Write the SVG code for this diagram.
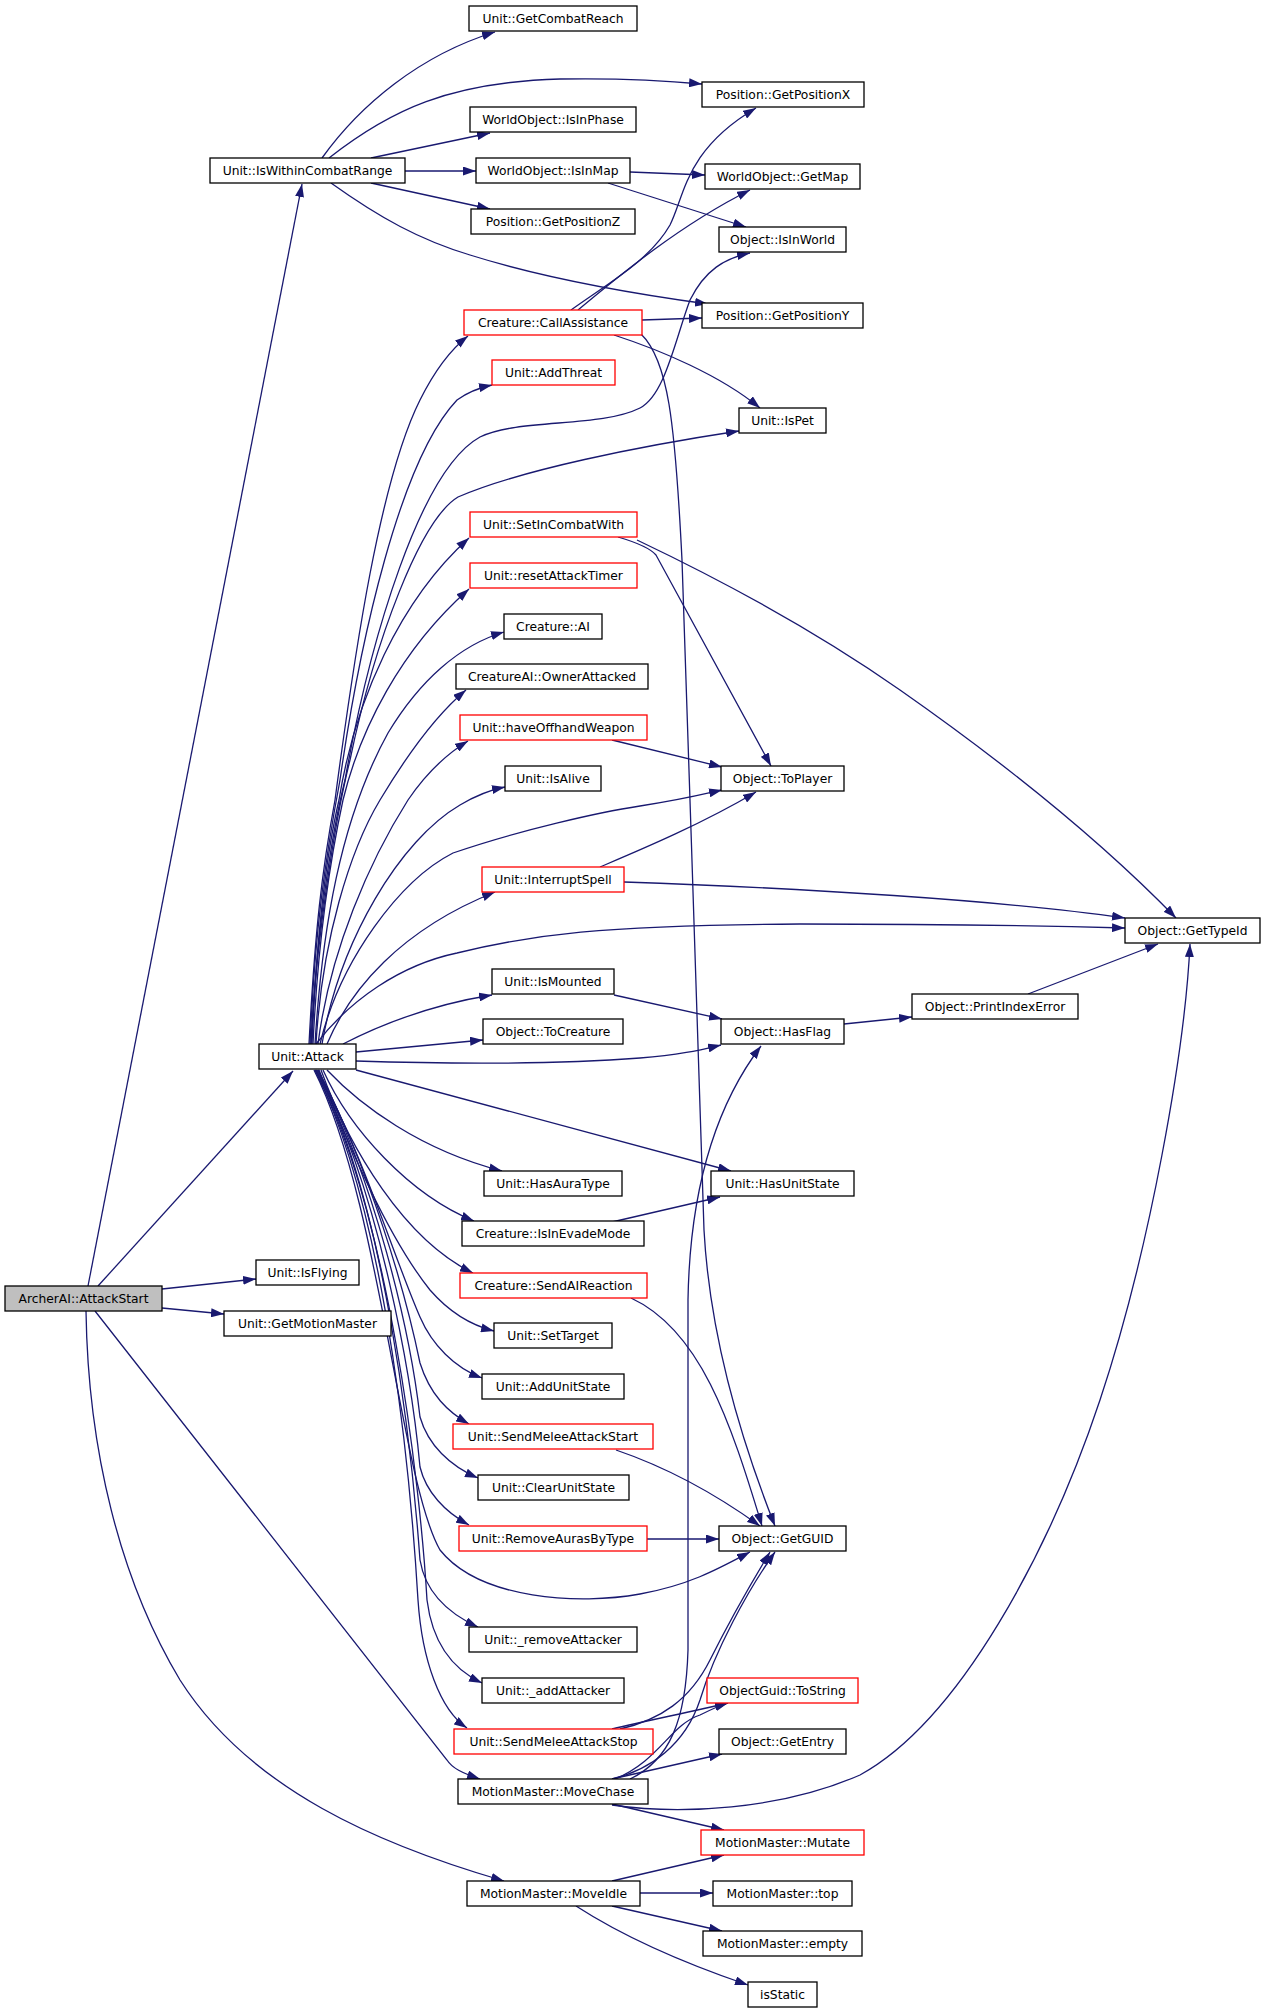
<svg xmlns="http://www.w3.org/2000/svg" width="1264" height="2013" viewBox="0 0 1264 2013">
<style>
.n rect{fill:#ffffff;stroke:#000000;stroke-width:1.3}
.n.r rect{stroke:#ff0000}
.n.root rect{fill:#bfbfbf}
.n text{font-family:"DejaVu Sans","Liberation Sans",sans-serif;font-size:12.3px;text-anchor:middle;fill:#000000}
#edges path{fill:none;stroke:#191970;stroke-width:1.3;marker-end:url(#a)}
</style>
<defs>
<marker id="a" viewBox="0 0 13 9" refX="13" refY="4.5" markerWidth="13" markerHeight="9" markerUnits="userSpaceOnUse" orient="auto">
<path d="M0,0 L13,4.5 L0,9 z" fill="#191970"/>
</marker>
</defs>
<rect x="0" y="0" width="1264" height="2013" fill="#ffffff"/>
<g id="edges">
<path d="M88,1286 L302,184"/>
<path d="M98,1286 L293,1071"/>
<path d="M162,1289 L256,1279"/>
<path d="M162,1308 L224,1314"/>
<path d="M95,1311 L447,1760 C452,1768 462,1773 480,1779"/>
<path d="M86,1311 C88,1450 120,1580 180,1680 C250,1790 380,1845 504,1881"/>
<path d="M322,158 C360,105 420,55 495,32"/>
<path d="M329,158 C390,110 450,82 560,79 C620,78 660,80 702,84"/>
<path d="M371,158 L490,133"/>
<path d="M405,171 L476,171"/>
<path d="M371,183 L490,209"/>
<path d="M331,183 C380,218 420,240 470,255 C540,277 620,292 708,304"/>
<path d="M630,172 L705,175"/>
<path d="M608,183 L746,227"/>
<path d="M571,310 C610,282 650,260 670,225 C685,195 685,150 756,108"/>
<path d="M578,310 C620,275 680,225 750,190"/>
<path d="M642,320 L702,318"/>
<path d="M614,335 C660,350 720,375 760,408"/>
<path d="M641,334 C668,360 675,420 682,560 C690,760 698,1100 704,1230 C710,1340 745,1450 775,1526"/>
<path d="M309,1044 C315,930 322,870 335,800 C355,650 380,480 420,400 C435,370 450,350 468,336"/>
<path d="M310,1044 C315,930 325,860 340,780 C360,640 400,460 457,400 C468,392 478,388 492,385"/>
<path d="M311,1044 C316,940 330,840 345,780 C370,640 420,470 480,437 C520,418 600,428 640,408 C665,395 675,340 690,300 C705,270 725,258 750,253"/>
<path d="M311,1044 C316,940 335,820 350,760 C375,640 420,520 458,497 C520,470 640,446 739,431"/>
<path d="M312,1044 C316,950 325,860 339,800 C355,700 400,600 469,538"/>
<path d="M313,1044 C318,940 330,860 343,800 C360,730 400,650 469,589"/>
<path d="M315,1044 C322,930 340,820 388,733 C420,680 460,645 504,632"/>
<path d="M316,1044 C322,940 350,850 380,800 C395,775 430,720 466,690"/>
<path d="M318,1044 C330,950 370,860 408,800 C425,775 445,755 468,741"/>
<path d="M322,1044 C340,940 400,840 460,805 C475,796 490,790 505,787"/>
<path d="M320,1044 C340,960 400,880 453,853 C520,830 600,812 640,806 C680,800 700,795 722,790"/>
<path d="M327,1044 C350,990 400,930 495,892"/>
<path d="M316,1044 C350,1000 400,965 457,953 C530,935 600,925 800,924 C950,924 1050,926 1125,928"/>
<path d="M343,1044 C380,1025 430,1005 492,995"/>
<path d="M356,1052 L483,1040"/>
<path d="M356,1061 C450,1064 560,1064 640,1058 C680,1055 700,1050 721,1045"/>
<path d="M356,1070 L731,1171"/>
<path d="M327,1070 C360,1105 420,1150 502,1171"/>
<path d="M323,1070 C350,1130 410,1195 474,1221"/>
<path d="M321,1070 C350,1150 405,1240 473,1273"/>
<path d="M319,1070 C350,1150 390,1240 430,1290 C450,1313 470,1325 494,1331"/>
<path d="M318,1070 C365,1160 395,1260 420,1317 C432,1345 455,1368 482,1378"/>
<path d="M318,1070 C370,1170 405,1290 420,1363 C430,1395 448,1412 469,1424"/>
<path d="M317,1070 C375,1180 410,1330 420,1417 C428,1445 450,1466 478,1478"/>
<path d="M316,1070 C380,1190 412,1380 420,1467 C426,1492 445,1512 469,1525"/>
<path d="M314,1070 C380,1200 400,1480 440,1550 C480,1600 580,1605 640,1594 C690,1585 720,1568 750,1552"/>
<path d="M316,1070 C385,1200 412,1450 420,1560 C425,1590 445,1612 478,1627"/>
<path d="M315,1070 C388,1210 420,1480 427,1600 C432,1640 450,1668 482,1683"/>
<path d="M315,1070 C390,1220 412,1500 418,1600 C422,1660 440,1710 467,1728"/>
<path d="M618,537 C635,542 650,548 656,555 L771,766"/>
<path d="M637,540 C700,570 800,620 900,690 C1000,760 1100,840 1176,918"/>
<path d="M612,740 L722,767"/>
<path d="M600,867 C640,850 700,825 756,792"/>
<path d="M624,882 C800,888 1000,900 1125,918"/>
<path d="M614,995 L722,1019"/>
<path d="M844,1024 L912,1017"/>
<path d="M1028,994 L1158,944"/>
<path d="M612,1222 L720,1197"/>
<path d="M631,1298 C700,1330 730,1420 762,1526"/>
<path d="M616,1450 C660,1465 710,1490 760,1526"/>
<path d="M647,1539 L719,1539"/>
<path d="M612,1729 C650,1720 690,1712 728,1703"/>
<path d="M620,1729 C660,1720 690,1700 710,1660 C730,1620 750,1585 770,1552"/>
<path d="M612,1779 C650,1770 685,1745 700,1700 C715,1650 748,1590 775,1552"/>
<path d="M615,1779 C660,1760 670,1725 700,1715 C710,1710 718,1706 728,1703"/>
<path d="M612,1779 L722,1754"/>
<path d="M630,1779 C670,1760 686,1720 688,1650 L688,1300 C690,1180 720,1100 761,1046"/>
<path d="M612,1805 C680,1815 780,1810 860,1775 C960,1720 1050,1550 1100,1400 C1150,1250 1185,1050 1190,944"/>
<path d="M612,1804 L724,1830"/>
<path d="M612,1881 L724,1855"/>
<path d="M640,1893 L713,1893"/>
<path d="M612,1906 L722,1931"/>
<path d="M576,1906 C610,1928 660,1955 748,1985"/>
</g>
<g id="n_archerai_attackstart" class="n root"><rect x="5" y="1286" width="157" height="25"/><text x="83.5" y="1303">ArcherAI::AttackStart</text></g>
<g id="n_iswithincombatrange" class="n"><rect x="210" y="158" width="195" height="25"/><text x="307.5" y="175">Unit::IsWithinCombatRange</text></g>
<g id="n_getcombatreach" class="n"><rect x="469" y="6" width="168" height="25"/><text x="553" y="23">Unit::GetCombatReach</text></g>
<g id="n_getpositionx" class="n"><rect x="702" y="82" width="162" height="25"/><text x="783" y="99">Position::GetPositionX</text></g>
<g id="n_isinphase" class="n"><rect x="470" y="107" width="166" height="25"/><text x="553" y="124">WorldObject::IsInPhase</text></g>
<g id="n_isinmap" class="n"><rect x="476" y="158" width="154" height="25"/><text x="553" y="175">WorldObject::IsInMap</text></g>
<g id="n_getmap" class="n"><rect x="705" y="164" width="155" height="25"/><text x="782.5" y="181">WorldObject::GetMap</text></g>
<g id="n_getpositionz" class="n"><rect x="471" y="209" width="164" height="25"/><text x="553" y="226">Position::GetPositionZ</text></g>
<g id="n_isinworld" class="n"><rect x="719" y="227" width="127" height="25"/><text x="782.5" y="244">Object::IsInWorld</text></g>
<g id="n_callassistance" class="n r"><rect x="464" y="310" width="178" height="25"/><text x="553" y="327">Creature::CallAssistance</text></g>
<g id="n_getpositiony" class="n"><rect x="702" y="303" width="161" height="25"/><text x="782.5" y="320">Position::GetPositionY</text></g>
<g id="n_addthreat" class="n r"><rect x="492" y="360" width="123" height="25"/><text x="553.5" y="377">Unit::AddThreat</text></g>
<g id="n_ispet" class="n"><rect x="739" y="408" width="87" height="25"/><text x="782.5" y="425">Unit::IsPet</text></g>
<g id="n_setincombatwith" class="n r"><rect x="470" y="512" width="167" height="25"/><text x="553.5" y="529">Unit::SetInCombatWith</text></g>
<g id="n_resetattacktimer" class="n r"><rect x="470" y="563" width="167" height="25"/><text x="553.5" y="580">Unit::resetAttackTimer</text></g>
<g id="n_creature_ai" class="n"><rect x="504" y="614" width="98" height="25"/><text x="553" y="631">Creature::AI</text></g>
<g id="n_ownerattacked" class="n"><rect x="456" y="664" width="192" height="25"/><text x="552" y="681">CreatureAI::OwnerAttacked</text></g>
<g id="n_haveoffhandweapon" class="n r"><rect x="460" y="715" width="187" height="25"/><text x="553.5" y="732">Unit::haveOffhandWeapon</text></g>
<g id="n_isalive" class="n"><rect x="505" y="766" width="96" height="25"/><text x="553" y="783">Unit::IsAlive</text></g>
<g id="n_toplayer" class="n"><rect x="721" y="766" width="123" height="25"/><text x="782.5" y="783">Object::ToPlayer</text></g>
<g id="n_interruptspell" class="n r"><rect x="482" y="867" width="142" height="25"/><text x="553" y="884">Unit::InterruptSpell</text></g>
<g id="n_gettypeid" class="n"><rect x="1125" y="918" width="135" height="25"/><text x="1192.5" y="935">Object::GetTypeId</text></g>
<g id="n_ismounted" class="n"><rect x="492" y="969" width="122" height="25"/><text x="553" y="986">Unit::IsMounted</text></g>
<g id="n_printindexerror" class="n"><rect x="912" y="994" width="166" height="25"/><text x="995" y="1011">Object::PrintIndexError</text></g>
<g id="n_tocreature" class="n"><rect x="483" y="1019" width="140" height="25"/><text x="553" y="1036">Object::ToCreature</text></g>
<g id="n_hasflag" class="n"><rect x="721" y="1019" width="123" height="25"/><text x="782.5" y="1036">Object::HasFlag</text></g>
<g id="n_attack" class="n"><rect x="259" y="1044" width="97" height="25"/><text x="307.5" y="1061">Unit::Attack</text></g>
<g id="n_hasauratype" class="n"><rect x="484" y="1171" width="138" height="25"/><text x="553" y="1188">Unit::HasAuraType</text></g>
<g id="n_hasunitstate" class="n"><rect x="711" y="1171" width="143" height="25"/><text x="782.5" y="1188">Unit::HasUnitState</text></g>
<g id="n_isinevademode" class="n"><rect x="462" y="1221" width="182" height="25"/><text x="553" y="1238">Creature::IsInEvadeMode</text></g>
<g id="n_sendaireaction" class="n r"><rect x="460" y="1273" width="187" height="25"/><text x="553.5" y="1290">Creature::SendAIReaction</text></g>
<g id="n_isflying" class="n"><rect x="256" y="1260" width="103" height="25"/><text x="307.5" y="1277">Unit::IsFlying</text></g>
<g id="n_getmotionmaster" class="n"><rect x="224" y="1311" width="167" height="25"/><text x="307.5" y="1328">Unit::GetMotionMaster</text></g>
<g id="n_settarget" class="n"><rect x="494" y="1323" width="118" height="25"/><text x="553" y="1340">Unit::SetTarget</text></g>
<g id="n_addunitstate" class="n"><rect x="482" y="1374" width="142" height="25"/><text x="553" y="1391">Unit::AddUnitState</text></g>
<g id="n_sendmeleeattackstart" class="n r"><rect x="453" y="1424" width="200" height="25"/><text x="553" y="1441">Unit::SendMeleeAttackStart</text></g>
<g id="n_clearunitstate" class="n"><rect x="478" y="1475" width="151" height="25"/><text x="553.5" y="1492">Unit::ClearUnitState</text></g>
<g id="n_removeaurasbytype" class="n r"><rect x="459" y="1526" width="188" height="25"/><text x="553" y="1543">Unit::RemoveAurasByType</text></g>
<g id="n_getguid" class="n"><rect x="719" y="1526" width="127" height="25"/><text x="782.5" y="1543">Object::GetGUID</text></g>
<g id="n_removeattacker" class="n"><rect x="469" y="1627" width="168" height="25"/><text x="553" y="1644">Unit::_removeAttacker</text></g>
<g id="n_addattacker" class="n"><rect x="482" y="1678" width="142" height="25"/><text x="553" y="1695">Unit::_addAttacker</text></g>
<g id="n_tostring" class="n r"><rect x="707" y="1678" width="151" height="25"/><text x="782.5" y="1695">ObjectGuid::ToString</text></g>
<g id="n_sendmeleeattackstop" class="n r"><rect x="454" y="1729" width="199" height="25"/><text x="553.5" y="1746">Unit::SendMeleeAttackStop</text></g>
<g id="n_getentry" class="n"><rect x="719" y="1729" width="127" height="25"/><text x="782.5" y="1746">Object::GetEntry</text></g>
<g id="n_movechase" class="n"><rect x="458" y="1779" width="190" height="25"/><text x="553" y="1796">MotionMaster::MoveChase</text></g>
<g id="n_mutate" class="n r"><rect x="701" y="1830" width="163" height="25"/><text x="782.5" y="1847">MotionMaster::Mutate</text></g>
<g id="n_moveidle" class="n"><rect x="467" y="1881" width="173" height="25"/><text x="553.5" y="1898">MotionMaster::MoveIdle</text></g>
<g id="n_top" class="n"><rect x="713" y="1881" width="139" height="25"/><text x="782.5" y="1898">MotionMaster::top</text></g>
<g id="n_empty" class="n"><rect x="703" y="1931" width="159" height="25"/><text x="782.5" y="1948">MotionMaster::empty</text></g>
<g id="n_isstatic" class="n"><rect x="748" y="1982" width="69" height="25"/><text x="782.5" y="1999">isStatic</text></g>
</svg>
